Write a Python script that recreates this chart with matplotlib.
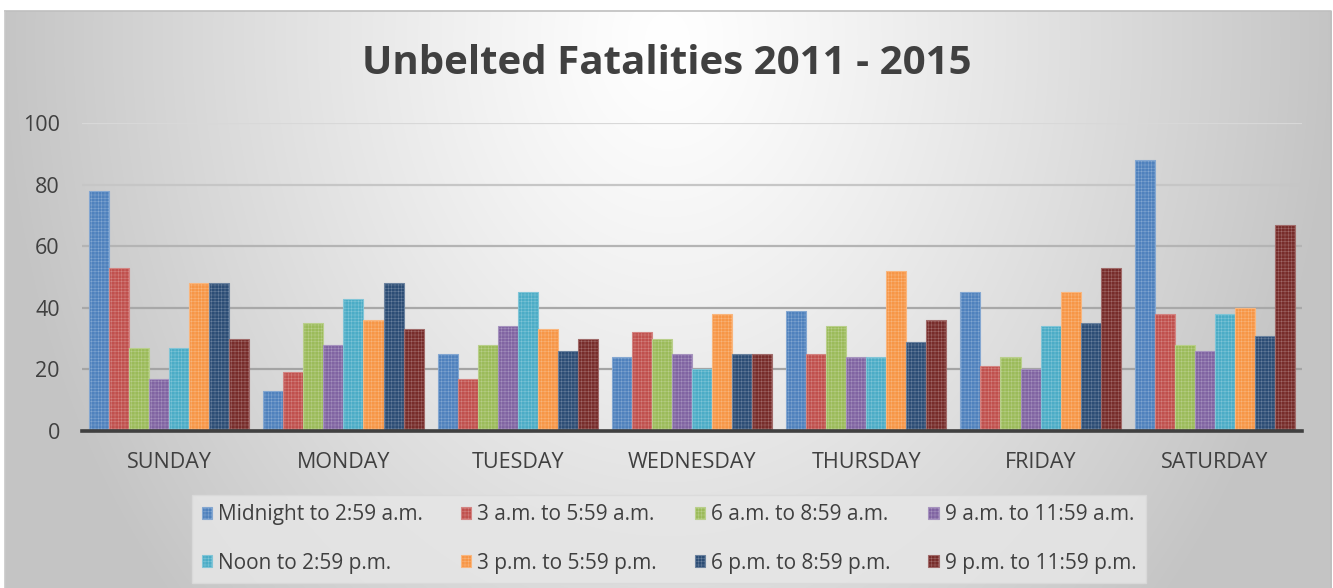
import numpy as np
import matplotlib
matplotlib.use("Agg")
import matplotlib.pyplot as plt
from matplotlib.colors import to_rgb

plt.rcParams['font.family'] = ['Open Sans', 'DejaVu Sans']
plt.rcParams['hatch.linewidth'] = 0.35

days = ['SUNDAY', 'MONDAY', 'TUESDAY', 'WEDNESDAY', 'THURSDAY', 'FRIDAY', 'SATURDAY']
periods = ['Midnight to 2:59 a.m.', '3 a.m. to 5:59 a.m.', '6 a.m. to 8:59 a.m.',
           '9 a.m. to 11:59 a.m.', 'Noon to 2:59 p.m.', '3 p.m. to 5:59 p.m.',
           '6 p.m. to 8:59 p.m.', '9 p.m. to 11:59 p.m.']

# one list per time period, values Sunday..Saturday
midnight_3am = [78, 13, 25, 24, 39, 45, 88]
am3_6am = [53, 19, 17, 32, 25, 21, 38]
am6_9am = [27, 35, 28, 30, 34, 24, 28]
am9_noon = [17, 28, 34, 25, 24, 20, 26]
noon_3pm = [27, 43, 45, 20, 24, 34, 38]
pm3_6pm = [48, 36, 33, 38, 52, 45, 40]
pm6_9pm = [48, 48, 26, 25, 29, 35, 31]
pm9_mid = [30, 33, 30, 25, 36, 53, 67]
series = [midnight_3am, am3_6am, am6_9am, am9_noon, noon_3pm, pm3_6pm, pm6_9pm, pm9_mid]

colors = ['#4F81BD', '#C0504D', '#9BBB59', '#8064A2',
          '#4BACC6', '#F79646', '#2C4D75', '#772C2A']

W, H = 1333, 588
fig = plt.figure(figsize=(W / 100, H / 100), dpi=100)

# background: white page, gray frame with radial-ish gradient
bg = fig.add_axes([0, 0, 1, 1], zorder=-5)
yy, xx = np.mgrid[0:H, 0:W]
nx = (xx - 667) / 667.0
ny = (yy - 40) / 548.0
r = np.clip(np.sqrt(nx ** 2 + (0.65 * ny) ** 2), 0, 1)
val = 1 - 0.23 * r ** 1.2
img = np.dstack([val, val, val])
inside = (xx >= 5) & (xx <= 1331) & (yy >= 11)
img[~inside] = 1.0
bg.imshow(img, extent=[0, W, H, 0], aspect='auto', interpolation='bilinear')
bg.plot([5, 1331, 1331], [11, 11, H], color='#BFBFBF', lw=1.2)
bg.plot([5, 5], [11, H], color='#C8C8C8', lw=1.2)
bg.set_xlim(0, W)
bg.set_ylim(H, 0)
bg.axis('off')

ax = fig.add_axes([82 / W, 1 - 431 / H, 1220 / W, 308 / H])
ax.patch.set_alpha(0)

def lighten(c, f):
    c = np.array(to_rgb(c))
    return tuple(c + (1 - c) * f)

n = len(series)
bw = 0.115
x = np.arange(len(days))
handles = []
for i, (vals, col) in enumerate(zip(series, colors)):
    off = (i - (n - 1) / 2) * bw
    b = ax.bar(x + off, vals, bw, color=col, edgecolor=lighten(col, 0.3),
               linewidth=0.8, hatch='+++++', label=periods[i], zorder=3)
    handles.append(b)

ax.set_xlim(-0.5, len(days) - 0.5)
ax.set_ylim(0, 100)
ax.set_yticks(range(0, 101, 20))
ax.set_xticks(x)
ax.set_xticklabels(days)
ax.tick_params(axis='both', length=0, labelsize=15.5, colors='#404040')
ax.tick_params(axis='y', pad=16)
ax.tick_params(axis='x', pad=15)
for s in ['top', 'right', 'left']:
    ax.spines[s].set_visible(False)
ax.spines['bottom'].set_color('#404040')
ax.spines['bottom'].set_linewidth(2.6)
ax.spines['bottom'].set_zorder(4)

ax.yaxis.grid(True, lw=1.6)
grid_cols = ['#404040', '#A4A4A4', '#A8A8A8', '#B4B4B4', '#C6C6C6', '#D8D8D8']
for gl, gc in zip(ax.get_ygridlines(), grid_cols):
    gl.set_color(gc)
ax.set_axisbelow(True)

fig.text(0.5, 1 - 63 / H, 'Unbelted Fatalities 2011 - 2015', ha='center', va='center',
         fontsize=29, fontweight='bold', color='#404040')

order = [0, 4, 1, 5, 2, 6, 3, 7]
leg = fig.legend([handles[k] for k in order], [periods[k] for k in order],
                 loc='center', bbox_to_anchor=(0.502, 1 - 539 / H), ncol=4,
                 fontsize=15, handlelength=0.5, handleheight=0.5, handletextpad=0.3,
                 columnspacing=1.8, labelspacing=1.3, borderpad=0.45,
                 frameon=True, fancybox=False, labelcolor='#404040')
leg.get_frame().set_facecolor('#E6E6E6')
leg.get_frame().set_edgecolor('#DADADA')
leg.get_frame().set_alpha(0.85)

fig.savefig('out.png', dpi=100)
